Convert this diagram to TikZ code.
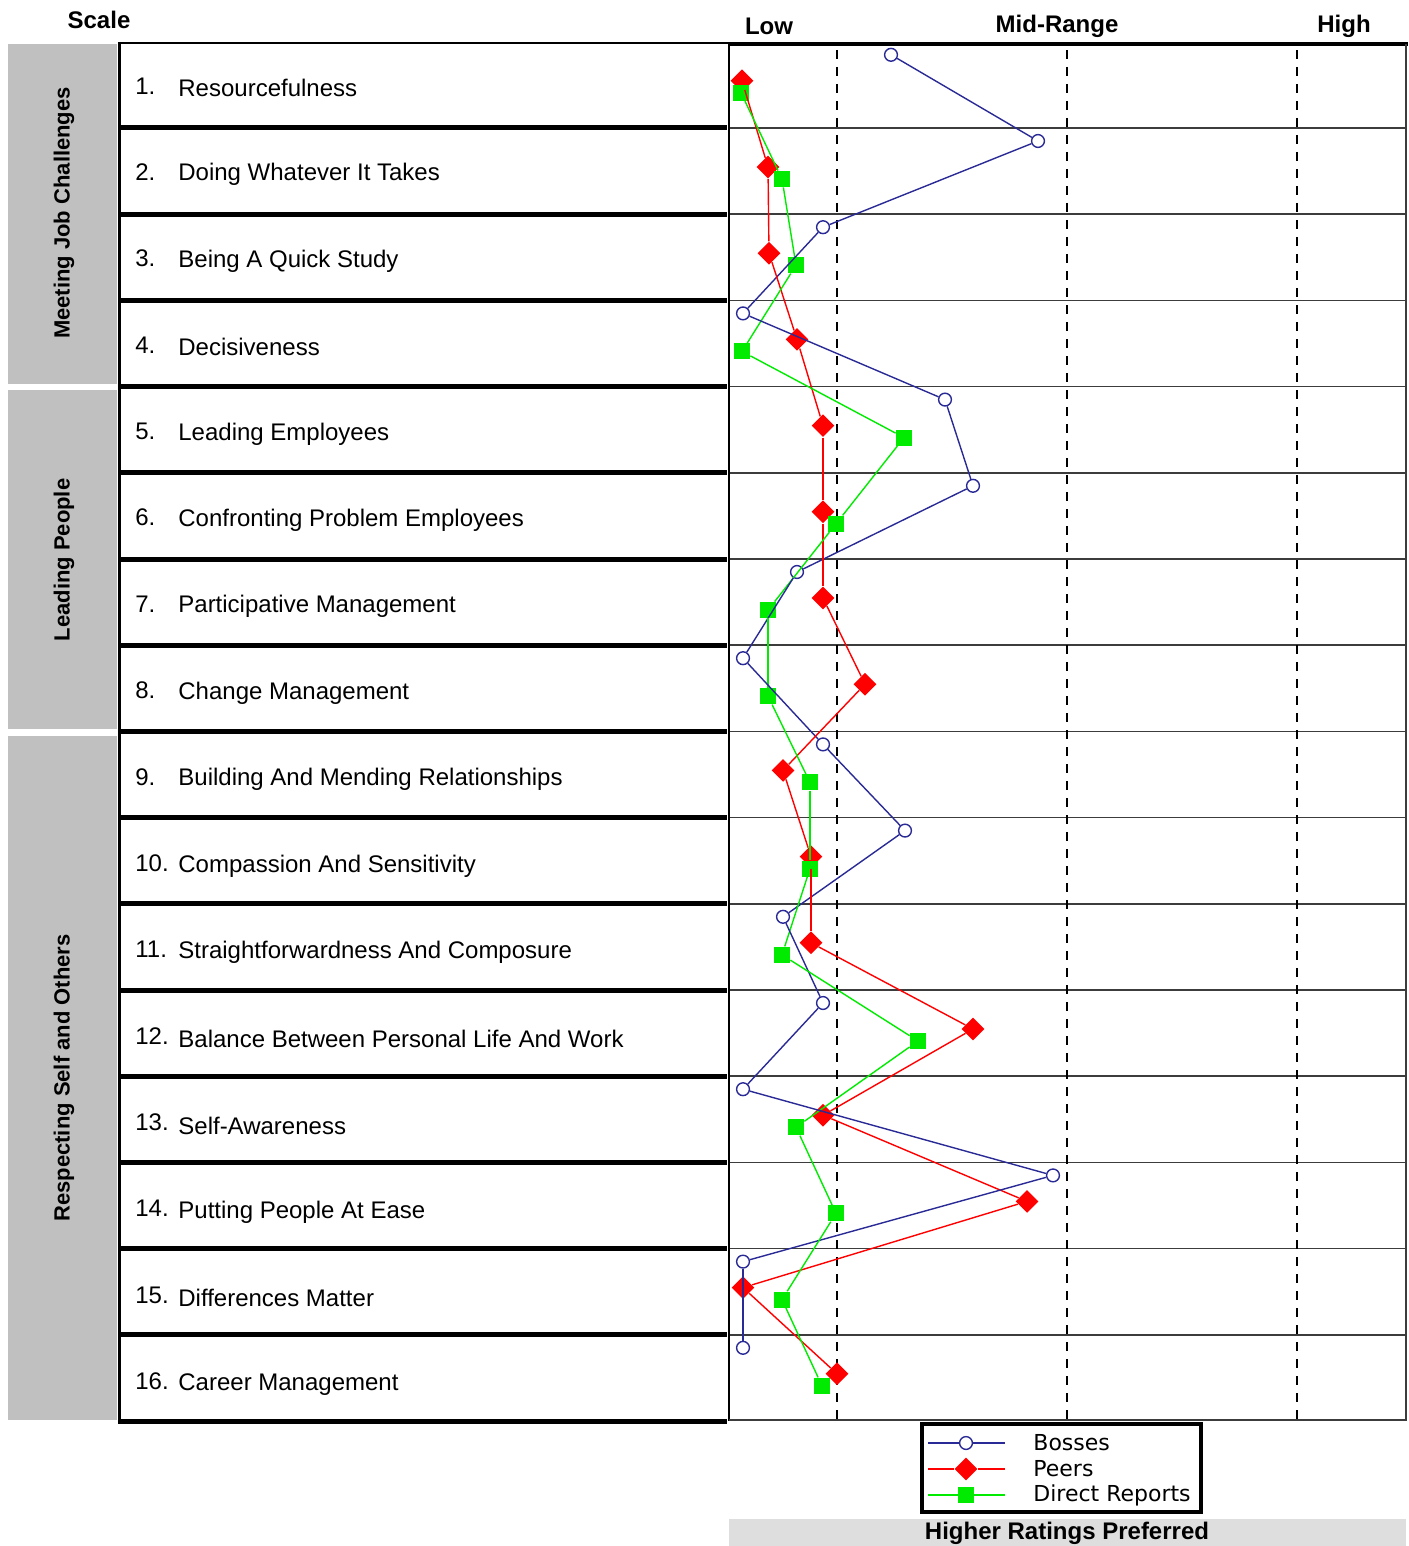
\documentclass[tikz,border=0pt]{standalone}
\usepackage{fontspec}
\setmainfont{Liberation Sans}
\newfontfamily\legendfont{DejaVu Sans}
\usetikzlibrary{shapes.geometric}
\definecolor{bandgray}{RGB}{192,192,192}
\definecolor{footgray}{RGB}{222,222,222}
\definecolor{bossblue}{RGB}{42,42,150}
\definecolor{peerred}{RGB}{255,0,0}
\definecolor{drgreen}{RGB}{0,235,0}
\definecolor{gridgray}{RGB}{60,60,60}
\tikzset{
  x=0.5pt,y=-0.5pt,
  rowlabel/.style={anchor=west,inner sep=0pt,font=\fontsize{12}{14}\selectfont},
  headlabel/.style={inner sep=0pt,font=\bfseries\fontsize{12}{14}\selectfont},
  grouplabel/.style={rotate=90,inner sep=0pt,font=\bfseries\fontsize{11}{13}\selectfont},
  keylabel/.style={anchor=west,inner sep=0pt,font=\legendfont\fontsize{11}{13}\selectfont},
  bossmark/.style={circle,draw=bossblue,fill=white,line width=0.7pt,inner sep=0pt,minimum size=6.4pt},
  peermark/.style={diamond,fill=peerred,inner sep=0pt,minimum size=11.5pt},
  drmark/.style={rectangle,fill=drgreen,inner sep=0pt,minimum size=8pt},
  bossline/.style={bossblue,line width=0.7pt},
  peerline/.style={peerred,line width=0.7pt},
  drline/.style={drgreen,line width=0.7pt},
}
\begin{document}
\begin{tikzpicture}
\pgfmathsetmacro{\rowh}{86.2}
\pgfmathsetmacro{\tabl}{119}
\pgfmathsetmacro{\tabr}{729}
\pgfmathsetmacro{\chr}{1406}
\useasboundingbox (0,0) rectangle (1408,1546);
\fill[bandgray](8,44) rectangle (117,384);
\fill[bandgray](8,390) rectangle (117,729);
\fill[bandgray](8,736) rectangle (117,1420);
\node[grouplabel] (g1) at (64,213) {Meeting Job Challenges};
\node[grouplabel] (g2) at (64,560) {Leading People};
\node[grouplabel] (g3) at (64,1078) {Respecting Self and Others};
\node[headlabel] (scale) at (99,20) {Scale};
\node[headlabel] (low) at (769,26) {Low};
\node[headlabel] (mid) at (1057,26) {Mid-Range};
\node[headlabel] (high) at (1344,26) {High};
\foreach \k in {1,...,15}{\pgfmathsetmacro{\yg}{128+(\k-1)*\rowh}\draw[gridgray,line width=0.75pt](\tabr,\yg)--(\chr,\yg);}
\foreach \x in {837,1067,1297}{\draw[dash pattern=on 4.5pt off 4pt,line width=1pt](\x,50)--(\x,1420);}
\foreach \k/\t in {1/Resourcefulness,2/Doing Whatever It Takes,3/Being A Quick Study,4/Decisiveness,5/Leading Employees,6/Confronting Problem Employees,7/Participative Management,8/Change Management,9/Building And Mending Relationships,10/Compassion And Sensitivity,11/Straightforwardness And Composure,12/Balance Between Personal Life And Work,13/Self-Awareness,14/Putting People At Ease,15/Differences Matter,16/Career Management}{
  \pgfmathsetmacro{\ytop}{128+(\k-2)*\rowh}
  \node[rowlabel] (n\k) at (135,\ytop+44+0.15*\k) {\k.};
  \node[rowlabel] (r\k) at (178,\ytop+46+0.25*\k) {\t};
  \draw[line width=2.5pt](\tabl,\ytop+\rowh)--(\tabr-2,\ytop+\rowh);
}
\draw[line width=0.6pt](\tabl,43)--(\tabr,43);
\draw[line width=1.6pt](\tabr,44)--(\chr+2,44);
\draw[line width=1pt](\tabr,43)--(\tabr,1421);
\draw[gridgray,line width=0.75pt](\tabr,1420)--(\chr,1420)--(\chr,44);
\draw[line width=1.5pt](\tabl,42)--(\tabl,1424);
\foreach \k/\b/\p/\d in {1/891/742/741,2/1038/768/782,3/823/769/796,4/743/797/742,5/945/823/904,6/973/823/836,7/797/823/768,8/743/865/768,9/823/783/810,10/905/811/810,11/783/811/782,12/823/973/918,13/743/823/796,14/1053/1027/836,15/743/743/782,16/743/837/822}{
  \pgfmathsetmacro{\ytop}{128+(\k-2)*\rowh}
  \node[bossmark] (b\k) at (\b,\ytop+13) {};
  \node[peermark] (p\k) at (\p,\ytop+39) {};
  \node[drmark] (d\k) at (\d,\ytop+51) {};
}
\foreach \k in {1,...,15}{
  \pgfmathtruncatemacro{\j}{\k+1}
  \draw[bossline](b\k)--(b\j);
  \draw[peerline](p\k)--(p\j);
  \draw[drline](d\k)--(d\j);
}
\draw[line width=2pt](922,1424) rectangle (1201,1512);
\foreach \y/\s/\t in {1443/boss/Bosses,1469/peer/Peers,1495/dr/Direct Reports}{
  \node[\s mark] (k\s) at (966,\y) {};
  \coordinate (k\s l) at (928,\y);
  \coordinate (k\s r) at (1005,\y);
  \draw[\s line](k\s l)--(k\s)--(k\s r);
  \node[keylabel] (t\s) at (1033,\y) {\t};
}
\fill[footgray](\tabr,1519) rectangle (\chr,1546);
\node[headlabel] (foot) at (1067,1533) {Higher Ratings Preferred};
\end{tikzpicture}
\end{document}
